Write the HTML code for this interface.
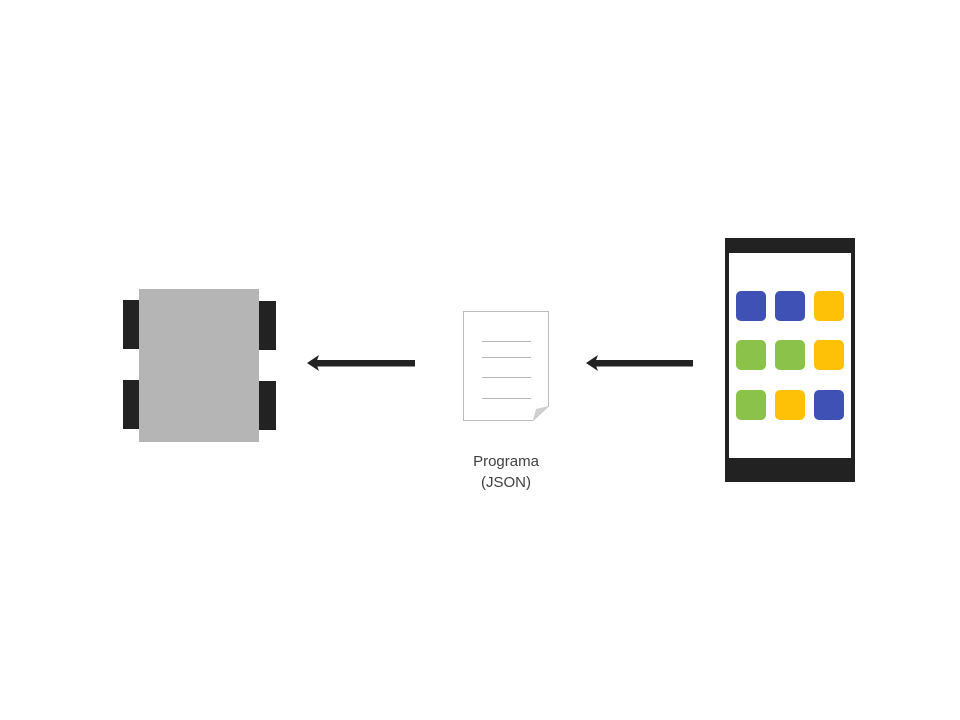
<!DOCTYPE html>
<html><head><meta charset="utf-8"><style>
html,body{margin:0;padding:0;background:#fff;width:960px;height:720px;overflow:hidden}
</style></head><body>
<svg width="960" height="720" xmlns="http://www.w3.org/2000/svg">
<rect width="960" height="720" fill="#fff"/>
<!-- car -->
<rect x="123" y="300" width="17" height="49" fill="#222"/>
<rect x="123" y="380" width="17" height="49" fill="#222"/>
<rect x="258" y="301" width="18" height="49" fill="#222"/>
<rect x="258" y="381" width="18" height="49" fill="#222"/>
<rect x="139" y="289" width="120" height="153" fill="#b5b5b5"/>
<!-- arrows -->
<rect x="316" y="360" width="99" height="6.5" fill="#222"/>
<polygon points="307,363 319,355 316,363 319,371" fill="#222"/>
<rect x="595" y="360" width="98" height="6.5" fill="#222"/>
<polygon points="586,363 598,355 595,363 598,371" fill="#222"/>
<!-- document -->
<path d="M463.5,311.5 H548.5 V406 L533,420.5 H463.5 Z" fill="#fff" stroke="#bdbdbd" stroke-width="1"/>
<path d="M548.5,406 L533,420.5 L536,409 Z" fill="#cfcfcf"/>
<g stroke="#b5b5b5" stroke-width="1">
<line x1="482" y1="341.5" x2="531" y2="341.5"/>
<line x1="482" y1="357.5" x2="531" y2="357.5"/>
<line x1="482" y1="377.5" x2="531" y2="377.5"/>
<line x1="482" y1="398.5" x2="531" y2="398.5"/>
</g>
<text x="506" y="466" text-anchor="middle" font-family="Liberation Sans, sans-serif" font-size="15" fill="#404040">Programa</text>
<text x="506" y="487" text-anchor="middle" font-family="Liberation Sans, sans-serif" font-size="15" fill="#404040">(JSON)</text>
<!-- phone -->
<rect x="725" y="238" width="130" height="244" fill="#222"/>
<rect x="729" y="253" width="122" height="205" fill="#fff"/>
<g>
<rect x="736" y="291" width="30" height="30" rx="5" fill="#3f51b5"/>
<rect x="775" y="291" width="30" height="30" rx="5" fill="#3f51b5"/>
<rect x="814" y="291" width="30" height="30" rx="5" fill="#ffc107"/>
<rect x="736" y="340" width="30" height="30" rx="5" fill="#8bc34a"/>
<rect x="775" y="340" width="30" height="30" rx="5" fill="#8bc34a"/>
<rect x="814" y="340" width="30" height="30" rx="5" fill="#ffc107"/>
<rect x="736" y="390" width="30" height="30" rx="5" fill="#8bc34a"/>
<rect x="775" y="390" width="30" height="30" rx="5" fill="#ffc107"/>
<rect x="814" y="390" width="30" height="30" rx="5" fill="#3f51b5"/>
</g>
</svg>
</body></html>
